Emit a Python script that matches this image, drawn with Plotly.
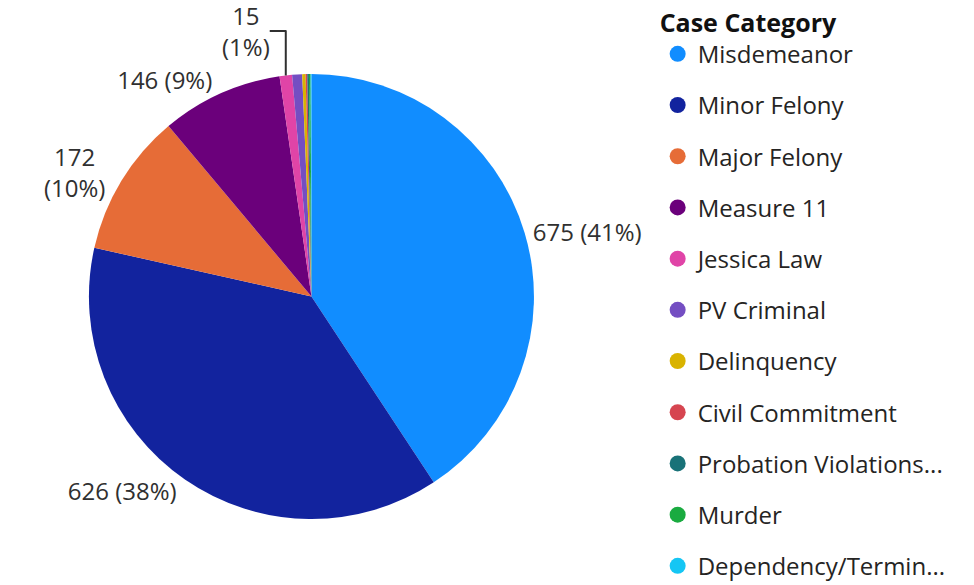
import plotly.graph_objects as go

categories = ["Misdemeanor", "Minor Felony", "Major Felony", "Measure 11", "Jessica Law",
              "PV Criminal", "Delinquency", "Civil Commitment", "Probation Violations...",
              "Murder", "Dependency/Termin..."]
values = [675, 626, 172, 146, 15, 12, 4, 2, 2, 2, 1]
label_text = ["675 (41%)", "626 (38%)", "172<br>(10%)", "146 (9%)", "15<br>(1%)",
              "", "", "", "", "", ""]
colors = ["#118DFF", "#12239E", "#E66C37", "#6B007B", "#E044A7", "#744EC2",
          "#D9B300", "#D64550", "#197278", "#1AAB40", "#15C6F4"]

FONT = "Open Sans, Noto Sans, sans-serif"

fig = go.Figure()
fig.add_trace(go.Pie(
    labels=categories, values=values, sort=False, direction="clockwise", rotation=0,
    marker=dict(colors=colors, line=dict(width=0)),
    text=label_text, textinfo="text", textposition="outside",
    outsidetextfont=dict(size=24, color="#303030", family=FONT),
    showlegend=False, hoverinfo="label+value+percent",
    domain=dict(x=[0.0831, 0.5400], y=[0.1265, 0.8872]),
))

for c, col in zip(categories, colors):
    fig.add_trace(go.Scatter(
        x=[None], y=[None], mode="markers", name=c, legendgroup=c,
        marker=dict(symbol="circle", size=16, color=col), showlegend=True,
        hoverinfo="skip",
    ))

fig.update_layout(
    width=974, height=585,
    margin=dict(l=0, r=0, t=0, b=0, autoexpand=False),
    paper_bgcolor="white", plot_bgcolor="white",
    font=dict(family=FONT, color="#252423"),
    xaxis=dict(visible=False), yaxis=dict(visible=False),
    legend=dict(
        x=0.667, y=1.015, xanchor="left", yanchor="top",
        title=dict(text="<b>Case Category</b>", font=dict(size=25, color="#111")),
        font=dict(size=24, color="#252423"),
        tracegroupgap=17, itemsizing="trace", itemwidth=30,
        maxheight=800,
    ),
)

fig.write_html("out.html")
